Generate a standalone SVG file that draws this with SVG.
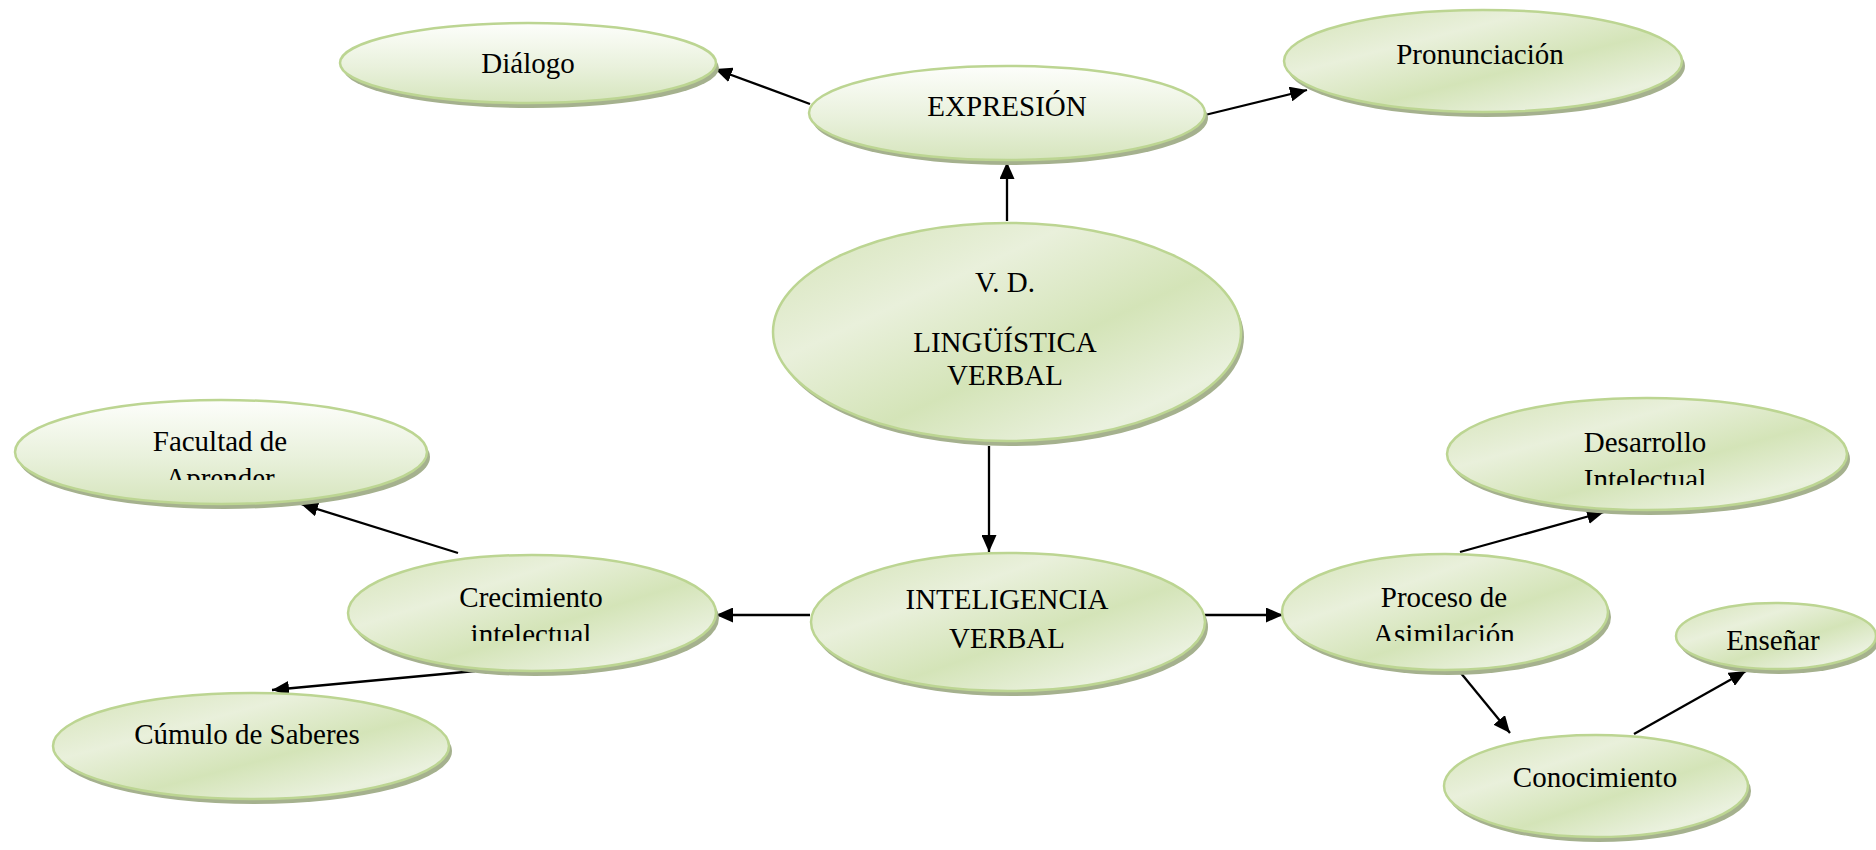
<svg xmlns="http://www.w3.org/2000/svg" width="1876" height="850" viewBox="0 0 1876 850">
<defs>
<linearGradient id="gv" x1="0" y1="0" x2="0" y2="1">
<stop offset="0" stop-color="#fdfefb"/>
<stop offset="0.55" stop-color="#e9f1dc"/>
<stop offset="1" stop-color="#d6e5bd"/>
</linearGradient>
<linearGradient id="gd" x1="0" y1="0" x2="1" y2="1">
<stop offset="0" stop-color="#d4e3b7"/>
<stop offset="0.32" stop-color="#e9f0db"/>
<stop offset="0.58" stop-color="#d4e4b8"/>
<stop offset="0.82" stop-color="#eaf1de"/>
<stop offset="1" stop-color="#dbe8c5"/>
</linearGradient>
<marker id="ah" markerUnits="userSpaceOnUse" markerWidth="18" markerHeight="15" refX="17" refY="7.5" orient="auto">
<path d="M0,0 L17,7.5 L0,15 z" fill="#000"/>
</marker>
<clipPath id="cFac"><rect x="0" y="380" width="500" height="100"/></clipPath>
<clipPath id="cCre"><rect x="300" y="560" width="500" height="81"/></clipPath>
<clipPath id="cPro"><rect x="1250" y="560" width="400" height="81"/></clipPath>
<clipPath id="cDes"><rect x="1400" y="400" width="476" height="85"/></clipPath>
</defs>
<style>
.sh{fill:#a5b18e}
.e{stroke:#bcd592;stroke-width:2.5}
.v{fill:url(#gv)}
.d{fill:url(#gd)}
text{font-family:"Liberation Serif","Times New Roman",serif;font-size:29px;fill:#000;text-anchor:middle}
.c line{stroke:#000;stroke-width:2.3;marker-end:url(#ah)}
</style>

<g id="connectors" class="c">
<line x1="810" y1="104" x2="715" y2="69"/>
<line x1="1205" y1="115" x2="1307" y2="90"/>
<line x1="1007" y1="221" x2="1007" y2="162"/>
<line x1="989" y1="446" x2="989" y2="552"/>
<line x1="810" y1="615" x2="716" y2="615"/>
<line x1="1205" y1="615" x2="1283" y2="615"/>
<line x1="458" y1="553" x2="301" y2="504"/>
<line x1="475" y1="671" x2="272" y2="690"/>
<line x1="1460" y1="552" x2="1604" y2="512"/>
<line x1="1460" y1="672" x2="1510" y2="733"/>
<line x1="1634" y1="734" x2="1746" y2="671"/>
</g>

<g id="dialogo">
<ellipse class="sh" cx="531" cy="68" rx="188" ry="40"/>
<ellipse class="e v" cx="528" cy="63" rx="188" ry="40"/>
<text x="528" y="73">Diálogo</text>
</g>

<g id="expresion">
<ellipse class="sh" cx="1010" cy="118" rx="198" ry="47"/>
<ellipse class="e v" cx="1007" cy="113" rx="198" ry="47"/>
<text x="1007" y="116">EXPRESIÓN</text>
</g>

<g id="pronunciacion">
<ellipse class="sh" cx="1486" cy="66" rx="199" ry="51"/>
<ellipse class="e d" cx="1483" cy="61" rx="199" ry="51"/>
<text x="1480" y="64">Pronunciación</text>
</g>

<g id="vd">
<ellipse class="sh" cx="1010" cy="337" rx="234" ry="109"/>
<ellipse class="e d" cx="1007" cy="332" rx="234" ry="109"/>
<text x="1005" y="292">V. D.</text>
<text x="1005" y="352">LINGÜÍSTICA</text>
<text x="1005" y="385">VERBAL</text>
</g>

<g id="inteligencia">
<ellipse class="sh" cx="1011" cy="627" rx="197" ry="69"/>
<ellipse class="e d" cx="1008" cy="622" rx="197" ry="69"/>
<text x="1007" y="609">INTELIGENCIA</text>
<text x="1007" y="648">VERBAL</text>
</g>

<g id="facultad">
<ellipse class="sh" cx="224" cy="457" rx="206" ry="52"/>
<ellipse class="e v" cx="221" cy="452" rx="206" ry="52"/>
<g clip-path="url(#cFac)">
<text x="220" y="451">Facultad de</text>
<text x="220" y="488">Aprender</text>
</g>
</g>

<g id="crecimiento">
<ellipse class="sh" cx="535" cy="618" rx="184" ry="58"/>
<ellipse class="e d" cx="532" cy="613" rx="184" ry="58"/>
<g clip-path="url(#cCre)">
<text x="531" y="607">Crecimiento</text>
<text x="531" y="644">intelectual</text>
</g>
</g>

<g id="cumulo">
<ellipse class="sh" cx="254" cy="751" rx="198" ry="53"/>
<ellipse class="e d" cx="251" cy="746" rx="198" ry="53"/>
<text x="247" y="744">Cúmulo de Saberes</text>
</g>

<g id="proceso">
<ellipse class="sh" cx="1448" cy="617" rx="163" ry="58"/>
<ellipse class="e d" cx="1445" cy="612" rx="163" ry="58"/>
<g clip-path="url(#cPro)">
<text x="1444" y="607">Proceso de</text>
<text x="1444" y="644">Asimilación</text>
</g>
</g>

<g id="desarrollo">
<ellipse class="sh" cx="1650" cy="459" rx="200" ry="56"/>
<ellipse class="e d" cx="1647" cy="454" rx="200" ry="56"/>
<g clip-path="url(#cDes)">
<text x="1645" y="452">Desarrollo</text>
<text x="1645" y="489">Intelectual</text>
</g>
</g>

<g id="ensenar">
<ellipse class="sh" cx="1779" cy="641" rx="100" ry="33"/>
<ellipse class="e d" cx="1776" cy="636" rx="100" ry="33"/>
<text x="1773" y="650">Enseñar</text>
</g>

<g id="conocimiento">
<ellipse class="sh" cx="1599" cy="791" rx="152" ry="51"/>
<ellipse class="e d" cx="1596" cy="786" rx="152" ry="51"/>
<text x="1595" y="787">Conocimiento</text>
</g>
</svg>
